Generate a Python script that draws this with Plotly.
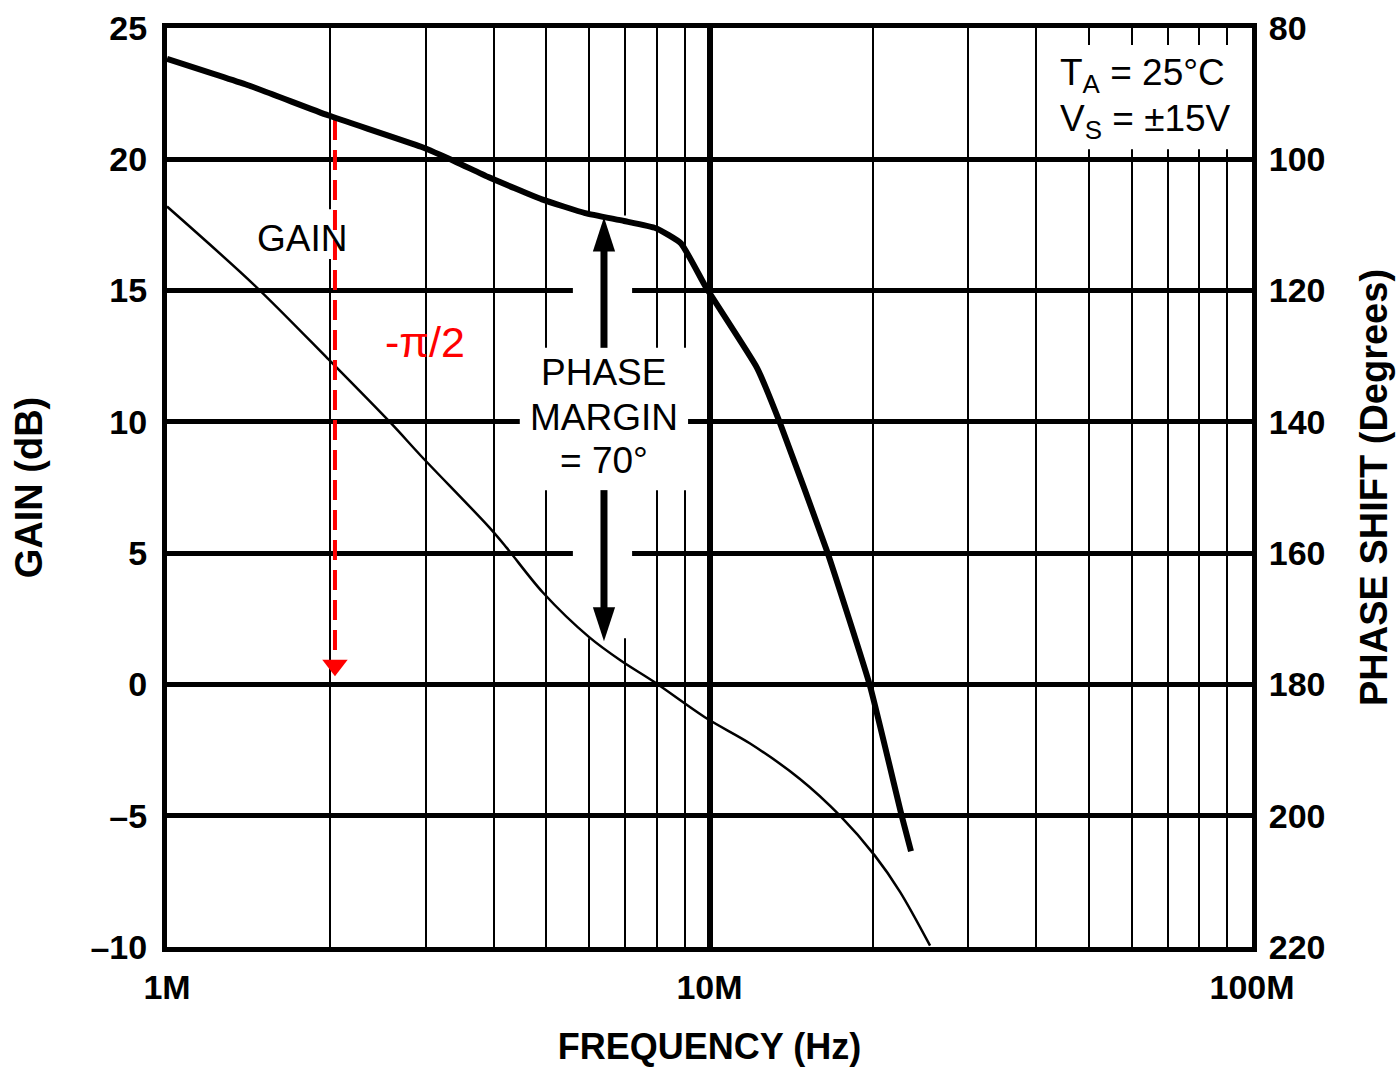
import plotly.graph_objects as go
import numpy as np

# ---- data ----
gain_freq_mhz = [1.0, 1.45, 1.98, 2.60, 2.94, 3.92, 4.23, 4.93, 6.00, 6.87, 7.90, 9.89, 11.88, 14.68, 17.40, 20.19, 22.45, 25.50]
gain_db = [18.2, 15.2, 12.4, 9.9, 8.7, 6.0, 5.2, 3.5, 1.8, 0.9, 0.1, -1.3, -2.25, -3.6, -5.0, -6.53, -7.9, -9.95]

phase_freq_mhz = [1.0, 1.42, 1.98, 2.94, 3.41, 3.91, 4.91, 5.90, 6.96, 7.97, 8.86, 9.85, 12.24, 13.49, 16.47, 19.76, 22.64, 23.52]
phase_deg = [84.7, 88.8, 93.3, 98.1, 100.4, 102.7, 106.1, 108.2, 109.4, 110.5, 112.8, 119.5, 131.8, 140.2, 159.7, 180.2, 200.2, 205.4]

gain_ticks = [25, 20, 15, 10, 5, 0, -5, -10]
gain_ticktext = ["25", "20", "15", "10", "5", "0", "\u20135", "\u201310"]
phase_ticks = [80, 100, 120, 140, 160, 180, 200, 220]
freq_ticks = [1e6, 1e7, 1e8]
freq_ticktext = ["1M", "10M", "100M"]
minor_freqs = [m * d for d in (1e6, 1e7) for m in range(2, 10)]

# annotation positions (frequency in MHz, gain in dB)
pi2_arrow = dict(f=2.04, top=21.5, bottom=0.8, tip=0.73)
pm_arrow = dict(f=6.39, up_tail=12.82, up_shaft_end=16.6, up_tip=17.79,
                dn_tail=7.40, dn_shaft_end=2.9, dn_tip=1.64)
pm_lines = [("PHASE", 11.87), ("MARGIN", 10.15), ("= 70\u00b0", 8.51)]
cond_lines = [("T<sub>A</sub> = 25\u00b0C", 23.2), ("V<sub>S</sub> = \u00b115V", 21.45)]
# white masking boxes behind labels: (f0, f1, g0, g1)
boxes = [(1.47, 2.16, 16.2, 18.1),
         (4.47, 9.13, 7.4, 12.82),
         (5.60, 7.20, 1.76, 17.86),
         (41.5, 100.0, 20.38, 24.35)]

FONT = "Liberation Sans, Arial, sans-serif"
M = 1e6

fig = go.Figure()

for (f0, f1, g0, g1) in boxes:
    fig.add_trace(go.Scatter(
        x=[f0 * M, f1 * M, f1 * M, f0 * M, f0 * M], y=[g0, g0, g1, g1, g0],
        fill="toself", fillcolor="white", mode="lines", line=dict(width=0),
        hoverinfo="skip", showlegend=False))

fig.add_trace(go.Scatter(
    x=[f * M for f in gain_freq_mhz], y=gain_db, mode="lines",
    line=dict(color="black", width=2.5, shape="spline", smoothing=0.9),
    name="Gain", showlegend=False))

# red dashed -pi/2 arrow
fig.add_trace(go.Scatter(
    x=[pi2_arrow["f"] * M] * 2, y=[pi2_arrow["top"], pi2_arrow["bottom"]],
    mode="lines", line=dict(color="#ff0000", width=4, dash="20px,10px"),
    hoverinfo="skip", showlegend=False))
fig.add_trace(go.Scatter(
    x=[pi2_arrow["f"] * M], y=[pi2_arrow["tip"]], mode="markers",
    marker=dict(symbol="triangle-down", size=22, color="#ff0000", line=dict(width=0)),
    hoverinfo="skip", showlegend=False))

# phase margin arrows
fig.add_trace(go.Scatter(
    x=[pm_arrow["f"] * M] * 2, y=[pm_arrow["up_tail"], pm_arrow["up_shaft_end"]],
    mode="lines", line=dict(color="black", width=7), hoverinfo="skip", showlegend=False))
fig.add_trace(go.Scatter(
    x=[pm_arrow["f"] * M] * 2, y=[pm_arrow["dn_tail"], pm_arrow["dn_shaft_end"]],
    mode="lines", line=dict(color="black", width=7), hoverinfo="skip", showlegend=False))
fig.add_trace(go.Scatter(
    x=[pm_arrow["f"] * M, pm_arrow["f"] * M], y=[pm_arrow["up_tip"], pm_arrow["dn_tip"]],
    mode="markers",
    marker=dict(symbol="arrow", size=36, angle=[0, 180], color="black", line=dict(width=0)),
    hoverinfo="skip", showlegend=False))

# phase curve on right axis
fig.add_trace(go.Scatter(
    x=[f * M for f in phase_freq_mhz], y=phase_deg, mode="lines", yaxis="y2",
    line=dict(color="black", width=6, shape="spline", smoothing=0.4),
    name="Phase", showlegend=False))

ann_font = dict(family=FONT, size=37, color="black")
fig.add_annotation(x=np.log10(1.774 * M), y=17.0, text="GAIN", showarrow=False,
                   font=ann_font, xanchor="center", yanchor="middle")
fig.add_annotation(x=np.log10(2.99 * M), y=13.05, text="-\u03c0/2", showarrow=False,
                   font=dict(family=FONT, size=43, color="#ff0000"),
                   xanchor="center", yanchor="middle")
for txt, yv in pm_lines:
    fig.add_annotation(x=np.log10(pm_arrow["f"] * M), y=yv, text=txt, showarrow=False,
                       font=ann_font, xanchor="center", yanchor="middle")
for txt, yv in cond_lines:
    fig.add_annotation(x=np.log10(43.9 * M), y=yv, text=txt, showarrow=False,
                       font=ann_font, xanchor="left", yanchor="middle", align="left")

tick_font = dict(family=FONT, size=34, color="black", weight="bold")
title_font = dict(family=FONT, size=38, color="black", weight="bold")

fig.update_layout(
    width=1397, height=1067,
    margin=dict(l=167, r=145, t=28, b=120),
    paper_bgcolor="white", plot_bgcolor="white",
    showlegend=False,
    xaxis=dict(
        type="log", range=[6, 8], automargin=False,
        tickvals=freq_ticks, ticktext=freq_ticktext,
        showgrid=True, gridcolor="black", gridwidth=6,
        minor=dict(tickvals=minor_freqs, showgrid=True, gridcolor="black", gridwidth=2, ticks=""),
        showline=True, linecolor="black", linewidth=5, mirror=True,
        ticks="", tickfont=tick_font, ticklabelstandoff=6,
        title=dict(text="FREQUENCY (Hz)", font=dict(family=FONT, size=36, color="black", weight="bold"), standoff=32),
        zeroline=False,
    ),
    yaxis=dict(
        range=[-10, 25], tickvals=gain_ticks, ticktext=gain_ticktext, automargin=False,
        showgrid=True, gridcolor="black", gridwidth=5,
        showline=True, linecolor="black", linewidth=5, mirror=True,
        ticks="", tickfont=tick_font, ticklabelstandoff=8,
        title=dict(text="GAIN (dB)", font=title_font, standoff=38),
        zeroline=False,
    ),
    yaxis2=dict(
        overlaying="y", side="right", range=[220, 80], tickvals=phase_ticks, automargin=False,
        showgrid=False, showline=True, linecolor="black", linewidth=5,
        ticks="", tickfont=tick_font, ticklabelstandoff=5,
        title=dict(text="PHASE SHIFT (Degrees)", font=title_font, standoff=37),
        zeroline=False,
    ),
)

fig.write_html("out.html", config={"displayModeBar": False},
               post_script="document.body.style.margin='0px';")
